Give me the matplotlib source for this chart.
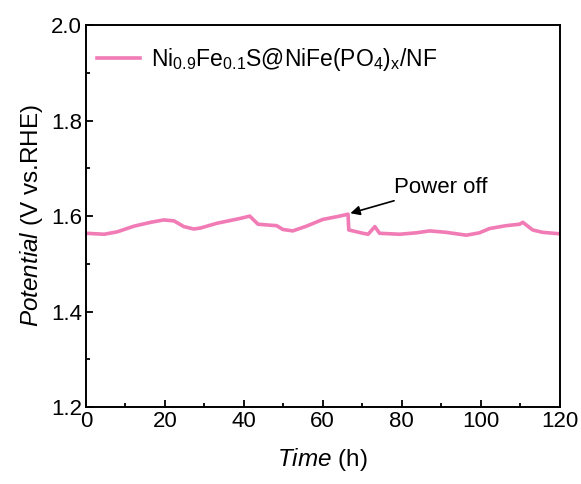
import matplotlib
matplotlib.use("Agg")
import matplotlib.pyplot as plt
from matplotlib.ticker import MultipleLocator, FormatStrFormatter

plt.rcParams["font.family"] = ["Liberation Sans", "DejaVu Sans"]
plt.rcParams["mathtext.fontset"] = "custom"
plt.rcParams["mathtext.rm"] = "Liberation Sans"
plt.rcParams["mathtext.it"] = "Liberation Sans:italic"

# ── data ────────────────────────────────────────────────────────
time_h = [0, 4.6, 7.9, 12.2, 16.4, 19.7, 22.3, 24.8, 27.3, 29, 33.2, 39,
          41.5, 43.6, 46.6, 48.3, 49.9, 52.4, 55.9, 60, 64.3, 66.4, 66.6,
          70.2, 71.5, 73.2, 74.4, 79.5, 83.7, 87.1, 91.3, 96.4, 99.7, 102.3,
          106.5, 109.9, 110.7, 113.2, 115.7, 120]
potential = [1.564, 1.562, 1.567, 1.579, 1.587, 1.592, 1.590, 1.578, 1.573,
             1.575, 1.585, 1.595, 1.600, 1.583, 1.581, 1.580, 1.572, 1.569,
             1.579, 1.593, 1.600, 1.604, 1.571, 1.564, 1.562, 1.578, 1.564,
             1.562, 1.565, 1.569, 1.566, 1.560, 1.565, 1.574, 1.580, 1.583,
             1.587, 1.571, 1.566, 1.563]
series_label = r"Ni$_{0.9}$Fe$_{0.1}$S@NiFe(PO$_4$)$_\mathrm{x}$/NF"
power_off = (67.0, 1.606)

fig = plt.figure(figsize=(5.81, 4.84), dpi=100)
ax = fig.add_axes([0.148, 0.159, 0.815, 0.789])

ax.plot(time_h, potential, color="#F07BB5", lw=2.6, label=series_label)

ax.annotate("Power off", xy=power_off, xytext=(78.0, 1.66),
            fontsize=16, va="center", ha="left",
            arrowprops=dict(arrowstyle="-|>", color="k", lw=1.2,
                            mutation_scale=14, shrinkA=0, shrinkB=0))

ax.set_xlim(0, 120)
ax.set_ylim(1.2, 2.0)
ax.xaxis.set_major_locator(MultipleLocator(20))
ax.xaxis.set_minor_locator(MultipleLocator(10))
ax.yaxis.set_major_locator(MultipleLocator(0.2))
ax.yaxis.set_minor_locator(MultipleLocator(0.1))
ax.yaxis.set_major_formatter(FormatStrFormatter("%.1f"))
ax.tick_params(which="both", direction="in", labelsize=16, top=False, right=False)
ax.tick_params(which="major", length=5, width=1.3, pad=3)
ax.tick_params(which="minor", length=3, width=1.3)
for sp in ax.spines.values():
    sp.set_linewidth(1.4)

ax.set_xlabel(r"$\it{Time}$ (h)", fontsize=17.5, labelpad=10)
ax.set_ylabel(r"$\it{Potential}$ (V vs.RHE)", fontsize=17.5, labelpad=4)

ax.legend(loc="upper left", bbox_to_anchor=(-0.021, 1.0), frameon=False,
          fontsize=16.5, handlelength=1.9, borderaxespad=0.5,
          handletextpad=0.45)

fig.savefig("out.png", dpi=100)
